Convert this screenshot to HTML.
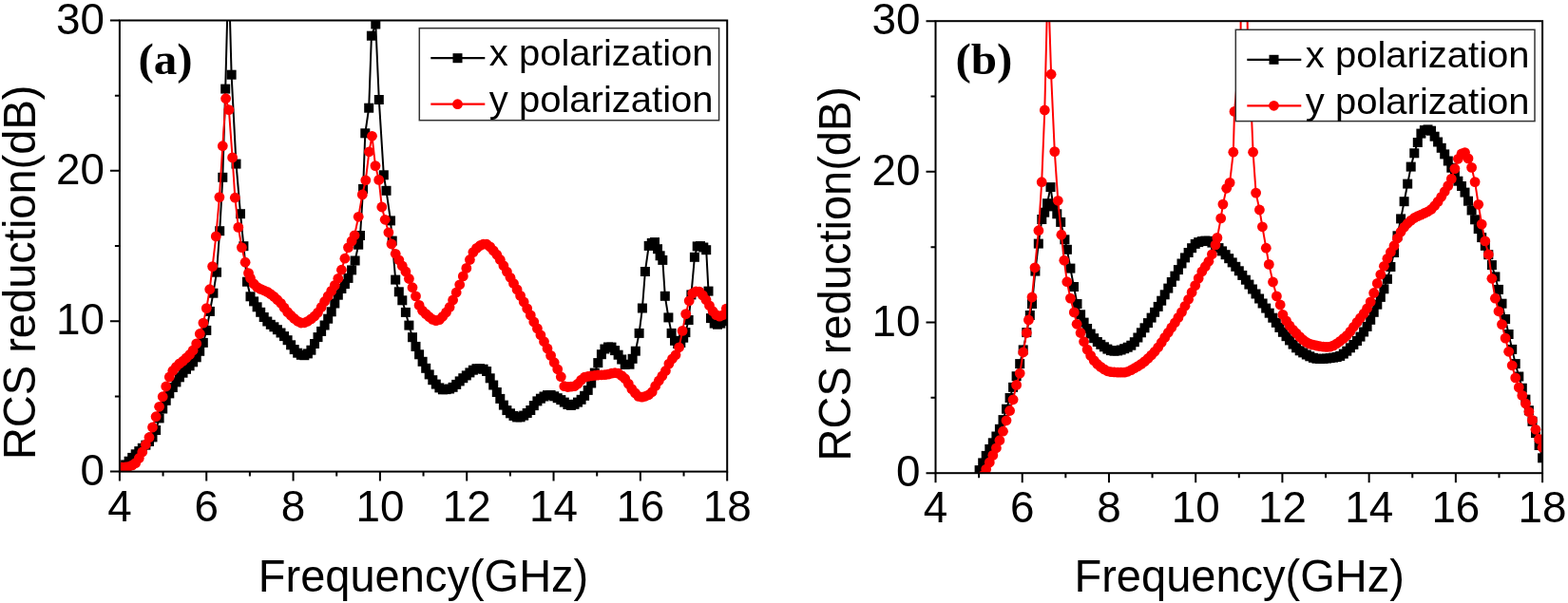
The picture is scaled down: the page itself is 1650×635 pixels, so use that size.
<!DOCTYPE html><html><head><meta charset="utf-8"><style>html,body{margin:0;padding:0;background:#fff;}svg{display:block;}.t{font-family:"Liberation Sans",Arial,sans-serif;fill:#000;}.p{font-family:"Liberation Serif","Times New Roman",serif;font-weight:bold;fill:#000;}</style></head><body>
<svg width="1650" height="635" viewBox="0 0 1650 635">
<rect x="0" y="0" width="1650" height="635" fill="#fff"/>
<defs>
<clipPath id="ca"><rect x="125.90" y="21.50" width="639.30" height="475.10"/></clipPath>
<clipPath id="cb"><rect x="984.50" y="22.20" width="638.60" height="476.00"/></clipPath>
<rect id="sq" x="-5" y="-5" width="10" height="10" fill="#000"/>
<circle id="ci" cx="0" cy="0" r="5.4" fill="#f00"/>
</defs>
<g clip-path="url(#ca)">
<path d="M125.0,495.7 L128.5,492.8 L132.1,489.4 L135.6,485.7 L139.2,481.9 L142.7,478.3 L146.3,475.1 L149.8,471.8 L153.4,468.7 L157.0,465.0 L160.5,460.4 L164.1,453.0 L167.6,440.4 L171.2,430.5 L174.7,421.8 L178.3,414.4 L181.8,408.0 L185.4,402.4 L188.9,397.3 L192.5,392.7 L196.0,388.8 L199.6,385.3 L203.1,381.3 L206.7,376.3 L210.2,369.8 L213.8,360.9 L217.3,347.9 L220.9,327.9 L224.4,308.7 L228.0,286.7 L231.2,243.2 L234.3,186.8 L237.2,93.6 L240.5,-33.9 L243.6,78.7 L248.5,172.6 L253.0,225.2 L256.4,259.2 L260.0,296.7 L263.5,312.3 L267.1,317.4 L270.6,323.3 L274.2,328.8 L277.7,334.0 L281.3,338.5 L284.8,341.8 L288.4,344.3 L291.9,347.2 L295.5,350.5 L299.0,354.1 L302.6,358.2 L306.1,363.3 L309.7,368.1 L313.2,371.7 L316.8,373.8 L320.3,374.2 L323.9,372.4 L327.4,368.7 L331.0,362.0 L334.5,355.1 L338.1,348.9 L341.6,342.5 L345.2,335.7 L348.7,328.3 L352.3,319.5 L355.8,310.7 L359.4,304.0 L362.9,299.1 L366.5,292.9 L370.1,284.4 L373.6,274.5 L377.2,257.7 L379.0,248.0 L382.1,198.9 L384.3,140.3 L388.2,113.7 L390.9,37.7 L395.3,25.5 L398.8,105.0 L403.8,184.3 L406.5,200.8 L411.0,232.4 L412.7,253.6 L416.2,294.6 L419.8,307.3 L423.3,316.3 L426.9,328.9 L430.4,342.6 L434.0,355.2 L437.5,364.9 L441.1,373.3 L444.6,380.8 L448.2,387.8 L451.7,394.4 L455.3,400.2 L458.8,404.6 L462.4,408.4 L465.9,410.3 L469.5,410.1 L473.1,409.5 L476.6,407.8 L480.2,404.9 L483.7,401.4 L487.3,398.2 L490.8,395.4 L494.4,392.4 L497.9,389.7 L501.5,388.2 L505.0,388.2 L508.6,388.7 L512.1,391.0 L515.7,398.3 L519.2,405.5 L522.8,413.0 L526.3,419.9 L529.9,426.6 L533.4,432.1 L537.0,435.3 L540.5,437.9 L544.1,439.4 L547.6,439.3 L551.2,437.6 L554.7,435.0 L558.3,432.0 L561.8,427.1 L565.4,422.4 L568.9,419.7 L572.5,417.5 L576.0,416.1 L579.6,416.0 L583.2,417.3 L586.7,419.2 L590.3,421.1 L593.8,423.6 L597.4,426.0 L600.9,426.9 L604.5,425.8 L608.0,423.6 L611.6,420.8 L615.1,416.8 L618.7,410.9 L622.2,403.5 L625.8,392.6 L629.3,382.1 L632.9,373.2 L636.4,367.5 L640.0,365.5 L643.5,365.6 L647.1,369.1 L650.6,373.7 L654.2,378.5 L657.7,384.0 L662.5,383.7 L665.6,377.8 L668.8,369.7 L672.6,350.9 L675.9,324.5 L678.9,286.0 L682.7,258.9 L685.8,255.9 L689.0,255.1 L692.0,262.2 L694.6,269.3 L697.3,273.9 L699.8,311.8 L703.4,334.4 L706.6,350.9 L710.0,358.8 L713.2,362.0 L716.3,361.0 L719.2,355.7 L721.4,350.1 L724.6,337.0 L727.4,310.4 L730.9,270.8 L733.7,259.4 L737.0,259.1 L740.3,260.5 L743.2,263.2 L745.5,306.6 L748.0,335.1 L751.7,340.6 L755.0,341.7 L758.3,340.6 L761.5,338.2 L764.5,334.3" fill="none" stroke="#000" stroke-width="2" stroke-linejoin="round"/>
<g><use href="#sq" x="125.0" y="495.7"/><use href="#sq" x="128.5" y="492.8"/><use href="#sq" x="132.1" y="489.4"/><use href="#sq" x="135.6" y="485.7"/><use href="#sq" x="139.2" y="481.9"/><use href="#sq" x="142.7" y="478.3"/><use href="#sq" x="146.3" y="475.1"/><use href="#sq" x="149.8" y="471.8"/><use href="#sq" x="153.4" y="468.7"/><use href="#sq" x="157.0" y="465.0"/><use href="#sq" x="160.5" y="460.4"/><use href="#sq" x="164.1" y="453.0"/><use href="#sq" x="167.6" y="440.4"/><use href="#sq" x="171.2" y="430.5"/><use href="#sq" x="174.7" y="421.8"/><use href="#sq" x="178.3" y="414.4"/><use href="#sq" x="181.8" y="408.0"/><use href="#sq" x="185.4" y="402.4"/><use href="#sq" x="188.9" y="397.3"/><use href="#sq" x="192.5" y="392.7"/><use href="#sq" x="196.0" y="388.8"/><use href="#sq" x="199.6" y="385.3"/><use href="#sq" x="203.1" y="381.3"/><use href="#sq" x="206.7" y="376.3"/><use href="#sq" x="210.2" y="369.8"/><use href="#sq" x="213.8" y="360.9"/><use href="#sq" x="217.3" y="347.9"/><use href="#sq" x="220.9" y="327.9"/><use href="#sq" x="224.4" y="308.7"/><use href="#sq" x="228.0" y="286.7"/><use href="#sq" x="231.2" y="243.2"/><use href="#sq" x="234.3" y="186.8"/><use href="#sq" x="237.2" y="93.6"/><use href="#sq" x="243.6" y="78.7"/><use href="#sq" x="248.5" y="172.6"/><use href="#sq" x="253.0" y="225.2"/><use href="#sq" x="256.4" y="259.2"/><use href="#sq" x="260.0" y="296.7"/><use href="#sq" x="263.5" y="312.3"/><use href="#sq" x="267.1" y="317.4"/><use href="#sq" x="270.6" y="323.3"/><use href="#sq" x="274.2" y="328.8"/><use href="#sq" x="277.7" y="334.0"/><use href="#sq" x="281.3" y="338.5"/><use href="#sq" x="284.8" y="341.8"/><use href="#sq" x="288.4" y="344.3"/><use href="#sq" x="291.9" y="347.2"/><use href="#sq" x="295.5" y="350.5"/><use href="#sq" x="299.0" y="354.1"/><use href="#sq" x="302.6" y="358.2"/><use href="#sq" x="306.1" y="363.3"/><use href="#sq" x="309.7" y="368.1"/><use href="#sq" x="313.2" y="371.7"/><use href="#sq" x="316.8" y="373.8"/><use href="#sq" x="320.3" y="374.2"/><use href="#sq" x="323.9" y="372.4"/><use href="#sq" x="327.4" y="368.7"/><use href="#sq" x="331.0" y="362.0"/><use href="#sq" x="334.5" y="355.1"/><use href="#sq" x="338.1" y="348.9"/><use href="#sq" x="341.6" y="342.5"/><use href="#sq" x="345.2" y="335.7"/><use href="#sq" x="348.7" y="328.3"/><use href="#sq" x="352.3" y="319.5"/><use href="#sq" x="355.8" y="310.7"/><use href="#sq" x="359.4" y="304.0"/><use href="#sq" x="362.9" y="299.1"/><use href="#sq" x="366.5" y="292.9"/><use href="#sq" x="370.1" y="284.4"/><use href="#sq" x="373.6" y="274.5"/><use href="#sq" x="377.2" y="257.7"/><use href="#sq" x="379.0" y="248.0"/><use href="#sq" x="382.1" y="198.9"/><use href="#sq" x="384.3" y="140.3"/><use href="#sq" x="388.2" y="113.7"/><use href="#sq" x="390.9" y="37.7"/><use href="#sq" x="395.3" y="25.5"/><use href="#sq" x="398.8" y="105.0"/><use href="#sq" x="403.8" y="184.3"/><use href="#sq" x="406.5" y="200.8"/><use href="#sq" x="411.0" y="232.4"/><use href="#sq" x="412.7" y="253.6"/><use href="#sq" x="416.2" y="294.6"/><use href="#sq" x="419.8" y="307.3"/><use href="#sq" x="423.3" y="316.3"/><use href="#sq" x="426.9" y="328.9"/><use href="#sq" x="430.4" y="342.6"/><use href="#sq" x="434.0" y="355.2"/><use href="#sq" x="437.5" y="364.9"/><use href="#sq" x="441.1" y="373.3"/><use href="#sq" x="444.6" y="380.8"/><use href="#sq" x="448.2" y="387.8"/><use href="#sq" x="451.7" y="394.4"/><use href="#sq" x="455.3" y="400.2"/><use href="#sq" x="458.8" y="404.6"/><use href="#sq" x="462.4" y="408.4"/><use href="#sq" x="465.9" y="410.3"/><use href="#sq" x="469.5" y="410.1"/><use href="#sq" x="473.1" y="409.5"/><use href="#sq" x="476.6" y="407.8"/><use href="#sq" x="480.2" y="404.9"/><use href="#sq" x="483.7" y="401.4"/><use href="#sq" x="487.3" y="398.2"/><use href="#sq" x="490.8" y="395.4"/><use href="#sq" x="494.4" y="392.4"/><use href="#sq" x="497.9" y="389.7"/><use href="#sq" x="501.5" y="388.2"/><use href="#sq" x="505.0" y="388.2"/><use href="#sq" x="508.6" y="388.7"/><use href="#sq" x="512.1" y="391.0"/><use href="#sq" x="515.7" y="398.3"/><use href="#sq" x="519.2" y="405.5"/><use href="#sq" x="522.8" y="413.0"/><use href="#sq" x="526.3" y="419.9"/><use href="#sq" x="529.9" y="426.6"/><use href="#sq" x="533.4" y="432.1"/><use href="#sq" x="537.0" y="435.3"/><use href="#sq" x="540.5" y="437.9"/><use href="#sq" x="544.1" y="439.4"/><use href="#sq" x="547.6" y="439.3"/><use href="#sq" x="551.2" y="437.6"/><use href="#sq" x="554.7" y="435.0"/><use href="#sq" x="558.3" y="432.0"/><use href="#sq" x="561.8" y="427.1"/><use href="#sq" x="565.4" y="422.4"/><use href="#sq" x="568.9" y="419.7"/><use href="#sq" x="572.5" y="417.5"/><use href="#sq" x="576.0" y="416.1"/><use href="#sq" x="579.6" y="416.0"/><use href="#sq" x="583.2" y="417.3"/><use href="#sq" x="586.7" y="419.2"/><use href="#sq" x="590.3" y="421.1"/><use href="#sq" x="593.8" y="423.6"/><use href="#sq" x="597.4" y="426.0"/><use href="#sq" x="600.9" y="426.9"/><use href="#sq" x="604.5" y="425.8"/><use href="#sq" x="608.0" y="423.6"/><use href="#sq" x="611.6" y="420.8"/><use href="#sq" x="615.1" y="416.8"/><use href="#sq" x="618.7" y="410.9"/><use href="#sq" x="622.2" y="403.5"/><use href="#sq" x="625.8" y="392.6"/><use href="#sq" x="629.3" y="382.1"/><use href="#sq" x="632.9" y="373.2"/><use href="#sq" x="636.4" y="367.5"/><use href="#sq" x="640.0" y="365.5"/><use href="#sq" x="643.5" y="365.6"/><use href="#sq" x="647.1" y="369.1"/><use href="#sq" x="650.6" y="373.7"/><use href="#sq" x="654.2" y="378.5"/><use href="#sq" x="657.7" y="384.0"/><use href="#sq" x="662.5" y="383.7"/><use href="#sq" x="665.6" y="377.8"/><use href="#sq" x="668.8" y="369.7"/><use href="#sq" x="672.6" y="350.9"/><use href="#sq" x="675.9" y="324.5"/><use href="#sq" x="678.9" y="286.0"/><use href="#sq" x="682.7" y="258.9"/><use href="#sq" x="685.8" y="255.9"/><use href="#sq" x="689.0" y="255.1"/><use href="#sq" x="692.0" y="262.2"/><use href="#sq" x="694.6" y="269.3"/><use href="#sq" x="697.3" y="273.9"/><use href="#sq" x="699.8" y="311.8"/><use href="#sq" x="703.4" y="334.4"/><use href="#sq" x="706.6" y="350.9"/><use href="#sq" x="710.0" y="358.8"/><use href="#sq" x="713.2" y="362.0"/><use href="#sq" x="716.3" y="361.0"/><use href="#sq" x="719.2" y="355.7"/><use href="#sq" x="721.4" y="350.1"/><use href="#sq" x="724.6" y="337.0"/><use href="#sq" x="727.4" y="310.4"/><use href="#sq" x="730.9" y="270.8"/><use href="#sq" x="733.7" y="259.4"/><use href="#sq" x="737.0" y="259.1"/><use href="#sq" x="740.3" y="260.5"/><use href="#sq" x="743.2" y="263.2"/><use href="#sq" x="745.5" y="306.6"/><use href="#sq" x="748.0" y="335.1"/><use href="#sq" x="751.7" y="340.6"/><use href="#sq" x="755.0" y="341.7"/><use href="#sq" x="758.3" y="340.6"/><use href="#sq" x="761.5" y="338.2"/><use href="#sq" x="764.5" y="334.3"/></g>
<path d="M125.0,492.3 L128.5,492.2 L132.1,491.9 L135.6,491.3 L139.2,489.9 L142.7,487.6 L146.3,482.5 L149.8,476.0 L153.4,468.2 L157.0,460.6 L160.5,450.0 L164.1,438.7 L167.6,428.3 L171.2,417.7 L174.7,407.0 L178.3,397.0 L181.8,390.5 L185.4,386.3 L188.9,382.9 L192.5,380.2 L196.0,377.0 L199.6,373.5 L203.1,369.0 L206.7,361.9 L210.3,351.5 L213.9,340.1 L217.3,324.6 L220.7,304.7 L223.6,280.6 L227.3,248.9 L230.9,207.6 L234.3,153.7 L237.6,103.7 L240.9,115.6 L244.6,165.9 L247.3,208.2 L250.8,239.4 L254.4,260.6 L258.1,276.2 L261.5,287.6 L263.5,293.0 L267.1,298.9 L270.6,302.4 L274.2,304.4 L277.7,305.8 L281.3,307.4 L284.8,309.7 L288.4,312.5 L291.9,315.7 L295.5,319.3 L299.0,324.0 L302.6,328.6 L306.1,332.2 L309.7,335.5 L313.2,338.3 L316.8,340.0 L320.3,339.8 L323.9,338.3 L327.4,335.9 L331.0,333.0 L334.5,329.1 L338.1,323.5 L341.6,317.5 L345.2,311.9 L348.7,306.4 L352.3,300.4 L355.8,293.3 L359.4,284.2 L362.9,272.2 L366.5,260.6 L370.1,253.9 L373.1,247.8 L377.2,228.3 L381.3,204.9 L384.8,189.8 L388.4,159.8 L391.5,143.3 L395.0,174.6 L398.7,189.4 L401.8,218.0 L405.2,231.3 L408.9,244.8 L412.0,257.0 L416.2,267.3 L419.8,273.8 L423.3,280.0 L426.9,286.0 L430.4,293.5 L434.0,302.7 L437.5,311.9 L441.1,321.4 L444.6,327.2 L448.2,330.6 L451.7,333.7 L455.3,336.4 L458.8,337.7 L462.4,336.6 L465.9,333.3 L469.5,329.0 L473.1,323.5 L476.6,316.0 L480.2,308.0 L483.7,299.8 L487.3,290.9 L490.8,282.4 L494.4,273.5 L497.9,265.6 L501.5,261.4 L505.0,258.7 L508.6,257.1 L512.1,257.2 L515.7,259.9 L519.2,263.9 L522.8,268.2 L526.3,273.5 L529.9,279.7 L533.4,286.1 L537.0,292.3 L540.5,298.5 L544.1,304.9 L547.6,311.4 L551.2,318.0 L554.7,324.9 L558.3,331.9 L561.8,339.0 L565.4,345.9 L568.9,352.8 L572.5,359.7 L576.0,367.0 L579.6,374.4 L583.2,381.7 L586.7,388.8 L590.3,396.7 L593.8,406.7 L597.4,407.5 L600.9,407.2 L604.5,406.6 L608.0,404.2 L611.6,400.1 L615.1,397.2 L618.7,396.4 L622.2,395.8 L625.8,395.4 L629.3,395.0 L632.9,394.8 L636.4,394.6 L640.0,394.2 L643.5,393.2 L647.1,392.6 L650.6,393.2 L654.2,395.6 L657.7,398.7 L661.3,404.1 L664.8,409.6 L668.4,413.9 L671.9,417.4 L675.5,418.1 L679.0,417.3 L682.6,415.8 L686.2,412.7 L689.7,406.5 L693.3,401.0 L696.8,396.0 L700.4,390.5 L703.9,383.1 L707.5,377.8 L711.0,373.8 L714.6,365.8 L718.1,348.4 L721.7,330.6 L725.2,316.8 L728.8,308.9 L732.3,306.9 L735.9,307.1 L739.4,310.9 L743.0,315.8 L746.5,321.8 L750.1,327.7 L753.6,331.6 L757.2,333.1 L760.7,331.8 L764.3,325.1" fill="none" stroke="#f00" stroke-width="2" stroke-linejoin="round"/>
<g><use href="#ci" x="125.0" y="492.3"/><use href="#ci" x="128.5" y="492.2"/><use href="#ci" x="132.1" y="491.9"/><use href="#ci" x="135.6" y="491.3"/><use href="#ci" x="139.2" y="489.9"/><use href="#ci" x="142.7" y="487.6"/><use href="#ci" x="146.3" y="482.5"/><use href="#ci" x="149.8" y="476.0"/><use href="#ci" x="153.4" y="468.2"/><use href="#ci" x="157.0" y="460.6"/><use href="#ci" x="160.5" y="450.0"/><use href="#ci" x="164.1" y="438.7"/><use href="#ci" x="167.6" y="428.3"/><use href="#ci" x="171.2" y="417.7"/><use href="#ci" x="174.7" y="407.0"/><use href="#ci" x="178.3" y="397.0"/><use href="#ci" x="181.8" y="390.5"/><use href="#ci" x="185.4" y="386.3"/><use href="#ci" x="188.9" y="382.9"/><use href="#ci" x="192.5" y="380.2"/><use href="#ci" x="196.0" y="377.0"/><use href="#ci" x="199.6" y="373.5"/><use href="#ci" x="203.1" y="369.0"/><use href="#ci" x="206.7" y="361.9"/><use href="#ci" x="210.3" y="351.5"/><use href="#ci" x="213.9" y="340.1"/><use href="#ci" x="217.3" y="324.6"/><use href="#ci" x="220.7" y="304.7"/><use href="#ci" x="223.6" y="280.6"/><use href="#ci" x="227.3" y="248.9"/><use href="#ci" x="230.9" y="207.6"/><use href="#ci" x="234.3" y="153.7"/><use href="#ci" x="237.6" y="103.7"/><use href="#ci" x="240.9" y="115.6"/><use href="#ci" x="244.6" y="165.9"/><use href="#ci" x="247.3" y="208.2"/><use href="#ci" x="250.8" y="239.4"/><use href="#ci" x="254.4" y="260.6"/><use href="#ci" x="258.1" y="276.2"/><use href="#ci" x="261.5" y="287.6"/><use href="#ci" x="263.5" y="293.0"/><use href="#ci" x="267.1" y="298.9"/><use href="#ci" x="270.6" y="302.4"/><use href="#ci" x="274.2" y="304.4"/><use href="#ci" x="277.7" y="305.8"/><use href="#ci" x="281.3" y="307.4"/><use href="#ci" x="284.8" y="309.7"/><use href="#ci" x="288.4" y="312.5"/><use href="#ci" x="291.9" y="315.7"/><use href="#ci" x="295.5" y="319.3"/><use href="#ci" x="299.0" y="324.0"/><use href="#ci" x="302.6" y="328.6"/><use href="#ci" x="306.1" y="332.2"/><use href="#ci" x="309.7" y="335.5"/><use href="#ci" x="313.2" y="338.3"/><use href="#ci" x="316.8" y="340.0"/><use href="#ci" x="320.3" y="339.8"/><use href="#ci" x="323.9" y="338.3"/><use href="#ci" x="327.4" y="335.9"/><use href="#ci" x="331.0" y="333.0"/><use href="#ci" x="334.5" y="329.1"/><use href="#ci" x="338.1" y="323.5"/><use href="#ci" x="341.6" y="317.5"/><use href="#ci" x="345.2" y="311.9"/><use href="#ci" x="348.7" y="306.4"/><use href="#ci" x="352.3" y="300.4"/><use href="#ci" x="355.8" y="293.3"/><use href="#ci" x="359.4" y="284.2"/><use href="#ci" x="362.9" y="272.2"/><use href="#ci" x="366.5" y="260.6"/><use href="#ci" x="370.1" y="253.9"/><use href="#ci" x="373.1" y="247.8"/><use href="#ci" x="377.2" y="228.3"/><use href="#ci" x="381.3" y="204.9"/><use href="#ci" x="384.8" y="189.8"/><use href="#ci" x="388.4" y="159.8"/><use href="#ci" x="391.5" y="143.3"/><use href="#ci" x="395.0" y="174.6"/><use href="#ci" x="398.7" y="189.4"/><use href="#ci" x="401.8" y="218.0"/><use href="#ci" x="405.2" y="231.3"/><use href="#ci" x="408.9" y="244.8"/><use href="#ci" x="412.0" y="257.0"/><use href="#ci" x="416.2" y="267.3"/><use href="#ci" x="419.8" y="273.8"/><use href="#ci" x="423.3" y="280.0"/><use href="#ci" x="426.9" y="286.0"/><use href="#ci" x="430.4" y="293.5"/><use href="#ci" x="434.0" y="302.7"/><use href="#ci" x="437.5" y="311.9"/><use href="#ci" x="441.1" y="321.4"/><use href="#ci" x="444.6" y="327.2"/><use href="#ci" x="448.2" y="330.6"/><use href="#ci" x="451.7" y="333.7"/><use href="#ci" x="455.3" y="336.4"/><use href="#ci" x="458.8" y="337.7"/><use href="#ci" x="462.4" y="336.6"/><use href="#ci" x="465.9" y="333.3"/><use href="#ci" x="469.5" y="329.0"/><use href="#ci" x="473.1" y="323.5"/><use href="#ci" x="476.6" y="316.0"/><use href="#ci" x="480.2" y="308.0"/><use href="#ci" x="483.7" y="299.8"/><use href="#ci" x="487.3" y="290.9"/><use href="#ci" x="490.8" y="282.4"/><use href="#ci" x="494.4" y="273.5"/><use href="#ci" x="497.9" y="265.6"/><use href="#ci" x="501.5" y="261.4"/><use href="#ci" x="505.0" y="258.7"/><use href="#ci" x="508.6" y="257.1"/><use href="#ci" x="512.1" y="257.2"/><use href="#ci" x="515.7" y="259.9"/><use href="#ci" x="519.2" y="263.9"/><use href="#ci" x="522.8" y="268.2"/><use href="#ci" x="526.3" y="273.5"/><use href="#ci" x="529.9" y="279.7"/><use href="#ci" x="533.4" y="286.1"/><use href="#ci" x="537.0" y="292.3"/><use href="#ci" x="540.5" y="298.5"/><use href="#ci" x="544.1" y="304.9"/><use href="#ci" x="547.6" y="311.4"/><use href="#ci" x="551.2" y="318.0"/><use href="#ci" x="554.7" y="324.9"/><use href="#ci" x="558.3" y="331.9"/><use href="#ci" x="561.8" y="339.0"/><use href="#ci" x="565.4" y="345.9"/><use href="#ci" x="568.9" y="352.8"/><use href="#ci" x="572.5" y="359.7"/><use href="#ci" x="576.0" y="367.0"/><use href="#ci" x="579.6" y="374.4"/><use href="#ci" x="583.2" y="381.7"/><use href="#ci" x="586.7" y="388.8"/><use href="#ci" x="590.3" y="396.7"/><use href="#ci" x="593.8" y="406.7"/><use href="#ci" x="597.4" y="407.5"/><use href="#ci" x="600.9" y="407.2"/><use href="#ci" x="604.5" y="406.6"/><use href="#ci" x="608.0" y="404.2"/><use href="#ci" x="611.6" y="400.1"/><use href="#ci" x="615.1" y="397.2"/><use href="#ci" x="618.7" y="396.4"/><use href="#ci" x="622.2" y="395.8"/><use href="#ci" x="625.8" y="395.4"/><use href="#ci" x="629.3" y="395.0"/><use href="#ci" x="632.9" y="394.8"/><use href="#ci" x="636.4" y="394.6"/><use href="#ci" x="640.0" y="394.2"/><use href="#ci" x="643.5" y="393.2"/><use href="#ci" x="647.1" y="392.6"/><use href="#ci" x="650.6" y="393.2"/><use href="#ci" x="654.2" y="395.6"/><use href="#ci" x="657.7" y="398.7"/><use href="#ci" x="661.3" y="404.1"/><use href="#ci" x="664.8" y="409.6"/><use href="#ci" x="668.4" y="413.9"/><use href="#ci" x="671.9" y="417.4"/><use href="#ci" x="675.5" y="418.1"/><use href="#ci" x="679.0" y="417.3"/><use href="#ci" x="682.6" y="415.8"/><use href="#ci" x="686.2" y="412.7"/><use href="#ci" x="689.7" y="406.5"/><use href="#ci" x="693.3" y="401.0"/><use href="#ci" x="696.8" y="396.0"/><use href="#ci" x="700.4" y="390.5"/><use href="#ci" x="703.9" y="383.1"/><use href="#ci" x="707.5" y="377.8"/><use href="#ci" x="711.0" y="373.8"/><use href="#ci" x="714.6" y="365.8"/><use href="#ci" x="718.1" y="348.4"/><use href="#ci" x="721.7" y="330.6"/><use href="#ci" x="725.2" y="316.8"/><use href="#ci" x="728.8" y="308.9"/><use href="#ci" x="732.3" y="306.9"/><use href="#ci" x="735.9" y="307.1"/><use href="#ci" x="739.4" y="310.9"/><use href="#ci" x="743.0" y="315.8"/><use href="#ci" x="746.5" y="321.8"/><use href="#ci" x="750.1" y="327.7"/><use href="#ci" x="753.6" y="331.6"/><use href="#ci" x="757.2" y="333.1"/><use href="#ci" x="760.7" y="331.8"/><use href="#ci" x="764.3" y="325.1"/></g>
</g>
<rect x="125.9" y="21.5" width="639.30" height="475.10" fill="none" stroke="#000" stroke-width="2"/>
<path d="M125.90,496.60v10 M171.56,496.60v5 M217.23,496.60v10 M262.89,496.60v5 M308.56,496.60v10 M354.22,496.60v5 M399.89,496.60v10 M445.55,496.60v5 M491.21,496.60v10 M536.88,496.60v5 M582.54,496.60v10 M628.21,496.60v5 M673.87,496.60v10 M719.54,496.60v5 M765.20,496.60v10 M125.90,496.60h-10 M125.90,417.42h-5 M125.90,338.23h-10 M125.90,259.05h-5 M125.90,179.87h-10 M125.90,100.68h-5 M125.90,21.50h-10" stroke="#000" stroke-width="2" fill="none"/>
<text class="t" transform="translate(125.90,548.6) scale(0.975,1)" font-size="47" text-anchor="middle">4</text>
<text class="t" transform="translate(217.23,548.6) scale(0.975,1)" font-size="47" text-anchor="middle">6</text>
<text class="t" transform="translate(308.56,548.6) scale(0.975,1)" font-size="47" text-anchor="middle">8</text>
<text class="t" transform="translate(399.89,548.6) scale(0.975,1)" font-size="47" text-anchor="middle">10</text>
<text class="t" transform="translate(491.21,548.6) scale(0.975,1)" font-size="47" text-anchor="middle">12</text>
<text class="t" transform="translate(582.54,548.6) scale(0.975,1)" font-size="47" text-anchor="middle">14</text>
<text class="t" transform="translate(673.87,548.6) scale(0.975,1)" font-size="47" text-anchor="middle">16</text>
<text class="t" transform="translate(765.20,548.6) scale(0.975,1)" font-size="47" text-anchor="middle">18</text>
<text class="t" transform="translate(109.90,510.6) scale(0.975,1)" font-size="47" text-anchor="end">0</text>
<text class="t" transform="translate(109.90,352.2) scale(0.975,1)" font-size="47" text-anchor="end">10</text>
<text class="t" transform="translate(109.90,193.9) scale(0.975,1)" font-size="47" text-anchor="end">20</text>
<text class="t" transform="translate(109.90,35.5) scale(0.975,1)" font-size="47" text-anchor="end">30</text>
<text class="t" transform="translate(271.8,623.0) scale(0.99,1)" font-size="47.5">Frequency(GHz)</text>
<text class="t" transform="translate(36.9,484.1) rotate(-90) scale(0.99,1)" font-size="47.5">RCS reduction(dB)</text>
<text class="p" transform="translate(145.4,78.0) scale(1.035,1)" font-size="47.5">(a)</text>
<rect x="441.3" y="29.7" width="315.3" height="97.0" fill="#fff" stroke="#333" stroke-width="1.5"/>
<path d="M453.3,61.2h57" stroke="#000" stroke-width="2.2"/>
<use href="#sq" x="481.5" y="61.2"/>
<path d="M453.3,109.7h57" stroke="#f00" stroke-width="2.2"/>
<use href="#ci" x="481.5" y="109.7"/>
<text class="t" transform="translate(514.8,69.2) scale(1.045,1)" font-size="38.3">x polarization</text>
<text class="t" transform="translate(514.8,118.0) scale(1.045,1)" font-size="38.3">y polarization</text>
<g clip-path="url(#cb)">
<path d="M984.5,625.1 L988.0,613.1 L991.6,601.4 L995.1,590.0 L998.7,579.0 L1002.2,568.4 L1005.8,558.0 L1009.3,548.1 L1012.9,538.6 L1016.4,529.5 L1020.0,520.6 L1023.5,511.9 L1027.1,503.3 L1030.6,495.1 L1034.2,487.4 L1037.7,479.9 L1041.3,472.9 L1044.8,466.3 L1048.4,459.5 L1051.9,451.8 L1055.5,442.1 L1059.0,430.7 L1062.6,419.0 L1066.1,407.8 L1069.6,396.2 L1073.2,383.1 L1076.7,368.4 L1080.3,350.1 L1083.8,332.0 L1086.0,320.0 L1089.4,285.6 L1092.8,256.6 L1096.3,231.0 L1099.2,223.7 L1102.0,214.2 L1105.5,197.1 L1108.4,217.4 L1112.3,225.3 L1116.2,233.9 L1120.4,252.3 L1122.9,262.8 L1126.4,282.6 L1130.0,302.0 L1133.5,320.0 L1137.1,331.3 L1140.6,339.6 L1144.1,346.0 L1147.7,351.5 L1151.2,356.2 L1154.8,360.0 L1158.3,362.8 L1161.9,365.3 L1165.4,367.6 L1169.0,369.1 L1172.5,369.7 L1176.1,369.4 L1179.6,368.5 L1183.2,367.2 L1186.7,365.7 L1190.3,363.7 L1193.8,360.2 L1197.4,355.5 L1200.9,350.3 L1204.5,345.3 L1208.0,340.1 L1211.6,334.6 L1215.1,328.8 L1218.7,322.9 L1222.2,316.7 L1225.7,310.3 L1229.3,303.6 L1232.8,297.0 L1236.4,290.6 L1239.9,284.1 L1243.5,277.5 L1247.0,271.4 L1250.6,266.0 L1254.1,261.2 L1257.7,256.9 L1261.2,255.1 L1264.8,254.1 L1268.3,253.6 L1271.9,253.8 L1275.4,255.6 L1279.0,258.3 L1282.5,261.1 L1286.1,264.4 L1289.6,268.2 L1293.2,272.2 L1296.7,276.4 L1300.3,280.8 L1303.8,285.3 L1307.3,289.9 L1310.9,294.7 L1314.4,299.6 L1318.0,304.5 L1321.5,309.5 L1325.1,314.5 L1328.6,319.5 L1332.2,324.6 L1335.7,329.7 L1339.3,334.7 L1342.8,339.8 L1346.4,344.9 L1349.9,349.8 L1353.5,354.2 L1357.0,358.4 L1360.6,362.6 L1364.1,366.3 L1367.7,369.3 L1371.2,371.4 L1374.8,373.5 L1378.3,375.3 L1381.9,376.8 L1385.4,377.7 L1388.9,377.9 L1392.5,377.8 L1396.0,377.5 L1399.6,377.1 L1403.1,376.6 L1406.7,376.0 L1410.2,374.9 L1413.8,372.6 L1417.3,369.7 L1420.9,366.3 L1424.4,362.9 L1428.0,359.0 L1431.5,354.6 L1435.1,349.5 L1438.6,343.9 L1442.2,336.8 L1445.7,328.8 L1449.3,320.7 L1452.8,312.9 L1456.4,304.3 L1459.9,293.9 L1463.4,281.0 L1467.0,266.0 L1470.5,248.3 L1474.1,230.4 L1477.6,212.2 L1481.2,193.6 L1484.7,175.6 L1488.3,161.3 L1491.8,150.0 L1495.4,140.6 L1498.9,137.1 L1502.5,136.4 L1506.0,137.7 L1509.6,143.7 L1513.1,149.5 L1516.7,155.8 L1520.2,162.4 L1523.8,169.5 L1527.3,176.7 L1530.9,184.3 L1534.4,190.7 L1538.0,196.0 L1541.5,202.6 L1545.0,211.7 L1548.6,221.5 L1552.1,231.3 L1555.7,241.1 L1559.2,250.1 L1562.8,258.8 L1566.3,268.2 L1569.9,279.1 L1573.4,291.4 L1577.0,304.9 L1580.5,319.7 L1584.1,336.0 L1587.6,352.0 L1591.2,367.9 L1594.7,383.1 L1598.3,396.5 L1601.8,408.7 L1605.4,420.6 L1608.9,432.2 L1612.5,443.8 L1616.0,456.1 L1619.6,469.0 L1623.1,482.3" fill="none" stroke="#000" stroke-width="2" stroke-linejoin="round"/>
<g><use href="#sq" x="984.5" y="625.1"/><use href="#sq" x="988.0" y="613.1"/><use href="#sq" x="991.6" y="601.4"/><use href="#sq" x="995.1" y="590.0"/><use href="#sq" x="998.7" y="579.0"/><use href="#sq" x="1002.2" y="568.4"/><use href="#sq" x="1005.8" y="558.0"/><use href="#sq" x="1009.3" y="548.1"/><use href="#sq" x="1012.9" y="538.6"/><use href="#sq" x="1016.4" y="529.5"/><use href="#sq" x="1020.0" y="520.6"/><use href="#sq" x="1023.5" y="511.9"/><use href="#sq" x="1027.1" y="503.3"/><use href="#sq" x="1030.6" y="495.1"/><use href="#sq" x="1034.2" y="487.4"/><use href="#sq" x="1037.7" y="479.9"/><use href="#sq" x="1041.3" y="472.9"/><use href="#sq" x="1044.8" y="466.3"/><use href="#sq" x="1048.4" y="459.5"/><use href="#sq" x="1051.9" y="451.8"/><use href="#sq" x="1055.5" y="442.1"/><use href="#sq" x="1059.0" y="430.7"/><use href="#sq" x="1062.6" y="419.0"/><use href="#sq" x="1066.1" y="407.8"/><use href="#sq" x="1069.6" y="396.2"/><use href="#sq" x="1073.2" y="383.1"/><use href="#sq" x="1076.7" y="368.4"/><use href="#sq" x="1080.3" y="350.1"/><use href="#sq" x="1083.8" y="332.0"/><use href="#sq" x="1086.0" y="320.0"/><use href="#sq" x="1089.4" y="285.6"/><use href="#sq" x="1092.8" y="256.6"/><use href="#sq" x="1096.3" y="231.0"/><use href="#sq" x="1099.2" y="223.7"/><use href="#sq" x="1102.0" y="214.2"/><use href="#sq" x="1105.5" y="197.1"/><use href="#sq" x="1108.4" y="217.4"/><use href="#sq" x="1112.3" y="225.3"/><use href="#sq" x="1116.2" y="233.9"/><use href="#sq" x="1120.4" y="252.3"/><use href="#sq" x="1122.9" y="262.8"/><use href="#sq" x="1126.4" y="282.6"/><use href="#sq" x="1130.0" y="302.0"/><use href="#sq" x="1133.5" y="320.0"/><use href="#sq" x="1137.1" y="331.3"/><use href="#sq" x="1140.6" y="339.6"/><use href="#sq" x="1144.1" y="346.0"/><use href="#sq" x="1147.7" y="351.5"/><use href="#sq" x="1151.2" y="356.2"/><use href="#sq" x="1154.8" y="360.0"/><use href="#sq" x="1158.3" y="362.8"/><use href="#sq" x="1161.9" y="365.3"/><use href="#sq" x="1165.4" y="367.6"/><use href="#sq" x="1169.0" y="369.1"/><use href="#sq" x="1172.5" y="369.7"/><use href="#sq" x="1176.1" y="369.4"/><use href="#sq" x="1179.6" y="368.5"/><use href="#sq" x="1183.2" y="367.2"/><use href="#sq" x="1186.7" y="365.7"/><use href="#sq" x="1190.3" y="363.7"/><use href="#sq" x="1193.8" y="360.2"/><use href="#sq" x="1197.4" y="355.5"/><use href="#sq" x="1200.9" y="350.3"/><use href="#sq" x="1204.5" y="345.3"/><use href="#sq" x="1208.0" y="340.1"/><use href="#sq" x="1211.6" y="334.6"/><use href="#sq" x="1215.1" y="328.8"/><use href="#sq" x="1218.7" y="322.9"/><use href="#sq" x="1222.2" y="316.7"/><use href="#sq" x="1225.7" y="310.3"/><use href="#sq" x="1229.3" y="303.6"/><use href="#sq" x="1232.8" y="297.0"/><use href="#sq" x="1236.4" y="290.6"/><use href="#sq" x="1239.9" y="284.1"/><use href="#sq" x="1243.5" y="277.5"/><use href="#sq" x="1247.0" y="271.4"/><use href="#sq" x="1250.6" y="266.0"/><use href="#sq" x="1254.1" y="261.2"/><use href="#sq" x="1257.7" y="256.9"/><use href="#sq" x="1261.2" y="255.1"/><use href="#sq" x="1264.8" y="254.1"/><use href="#sq" x="1268.3" y="253.6"/><use href="#sq" x="1271.9" y="253.8"/><use href="#sq" x="1275.4" y="255.6"/><use href="#sq" x="1279.0" y="258.3"/><use href="#sq" x="1282.5" y="261.1"/><use href="#sq" x="1286.1" y="264.4"/><use href="#sq" x="1289.6" y="268.2"/><use href="#sq" x="1293.2" y="272.2"/><use href="#sq" x="1296.7" y="276.4"/><use href="#sq" x="1300.3" y="280.8"/><use href="#sq" x="1303.8" y="285.3"/><use href="#sq" x="1307.3" y="289.9"/><use href="#sq" x="1310.9" y="294.7"/><use href="#sq" x="1314.4" y="299.6"/><use href="#sq" x="1318.0" y="304.5"/><use href="#sq" x="1321.5" y="309.5"/><use href="#sq" x="1325.1" y="314.5"/><use href="#sq" x="1328.6" y="319.5"/><use href="#sq" x="1332.2" y="324.6"/><use href="#sq" x="1335.7" y="329.7"/><use href="#sq" x="1339.3" y="334.7"/><use href="#sq" x="1342.8" y="339.8"/><use href="#sq" x="1346.4" y="344.9"/><use href="#sq" x="1349.9" y="349.8"/><use href="#sq" x="1353.5" y="354.2"/><use href="#sq" x="1357.0" y="358.4"/><use href="#sq" x="1360.6" y="362.6"/><use href="#sq" x="1364.1" y="366.3"/><use href="#sq" x="1367.7" y="369.3"/><use href="#sq" x="1371.2" y="371.4"/><use href="#sq" x="1374.8" y="373.5"/><use href="#sq" x="1378.3" y="375.3"/><use href="#sq" x="1381.9" y="376.8"/><use href="#sq" x="1385.4" y="377.7"/><use href="#sq" x="1388.9" y="377.9"/><use href="#sq" x="1392.5" y="377.8"/><use href="#sq" x="1396.0" y="377.5"/><use href="#sq" x="1399.6" y="377.1"/><use href="#sq" x="1403.1" y="376.6"/><use href="#sq" x="1406.7" y="376.0"/><use href="#sq" x="1410.2" y="374.9"/><use href="#sq" x="1413.8" y="372.6"/><use href="#sq" x="1417.3" y="369.7"/><use href="#sq" x="1420.9" y="366.3"/><use href="#sq" x="1424.4" y="362.9"/><use href="#sq" x="1428.0" y="359.0"/><use href="#sq" x="1431.5" y="354.6"/><use href="#sq" x="1435.1" y="349.5"/><use href="#sq" x="1438.6" y="343.9"/><use href="#sq" x="1442.2" y="336.8"/><use href="#sq" x="1445.7" y="328.8"/><use href="#sq" x="1449.3" y="320.7"/><use href="#sq" x="1452.8" y="312.9"/><use href="#sq" x="1456.4" y="304.3"/><use href="#sq" x="1459.9" y="293.9"/><use href="#sq" x="1463.4" y="281.0"/><use href="#sq" x="1467.0" y="266.0"/><use href="#sq" x="1470.5" y="248.3"/><use href="#sq" x="1474.1" y="230.4"/><use href="#sq" x="1477.6" y="212.2"/><use href="#sq" x="1481.2" y="193.6"/><use href="#sq" x="1484.7" y="175.6"/><use href="#sq" x="1488.3" y="161.3"/><use href="#sq" x="1491.8" y="150.0"/><use href="#sq" x="1495.4" y="140.6"/><use href="#sq" x="1498.9" y="137.1"/><use href="#sq" x="1502.5" y="136.4"/><use href="#sq" x="1506.0" y="137.7"/><use href="#sq" x="1509.6" y="143.7"/><use href="#sq" x="1513.1" y="149.5"/><use href="#sq" x="1516.7" y="155.8"/><use href="#sq" x="1520.2" y="162.4"/><use href="#sq" x="1523.8" y="169.5"/><use href="#sq" x="1527.3" y="176.7"/><use href="#sq" x="1530.9" y="184.3"/><use href="#sq" x="1534.4" y="190.7"/><use href="#sq" x="1538.0" y="196.0"/><use href="#sq" x="1541.5" y="202.6"/><use href="#sq" x="1545.0" y="211.7"/><use href="#sq" x="1548.6" y="221.5"/><use href="#sq" x="1552.1" y="231.3"/><use href="#sq" x="1555.7" y="241.1"/><use href="#sq" x="1559.2" y="250.1"/><use href="#sq" x="1562.8" y="258.8"/><use href="#sq" x="1566.3" y="268.2"/><use href="#sq" x="1569.9" y="279.1"/><use href="#sq" x="1573.4" y="291.4"/><use href="#sq" x="1577.0" y="304.9"/><use href="#sq" x="1580.5" y="319.7"/><use href="#sq" x="1584.1" y="336.0"/><use href="#sq" x="1587.6" y="352.0"/><use href="#sq" x="1591.2" y="367.9"/><use href="#sq" x="1594.7" y="383.1"/><use href="#sq" x="1598.3" y="396.5"/><use href="#sq" x="1601.8" y="408.7"/><use href="#sq" x="1605.4" y="420.6"/><use href="#sq" x="1608.9" y="432.2"/><use href="#sq" x="1612.5" y="443.8"/><use href="#sq" x="1616.0" y="456.1"/><use href="#sq" x="1619.6" y="469.0"/><use href="#sq" x="1623.1" y="482.3"/></g>
<path d="M984.5,656.9 L988.0,643.8 L991.6,631.0 L995.1,618.5 L998.7,606.2 L1002.2,594.2 L1005.8,582.5 L1009.3,571.0 L1012.9,559.7 L1016.4,548.6 L1020.0,537.9 L1023.5,527.6 L1027.1,517.9 L1030.6,508.7 L1034.2,501.0 L1037.7,494.1 L1041.3,486.9 L1044.8,479.4 L1048.4,471.8 L1051.9,463.7 L1055.5,454.2 L1059.0,442.8 L1062.6,432.5 L1066.1,420.8 L1069.6,405.4 L1073.2,393.1 L1076.7,371.0 L1080.3,350.5 L1082.4,337.0 L1086.0,313.0 L1089.0,281.8 L1092.9,242.7 L1096.2,191.7 L1099.3,116.0 L1102.7,-25.4 L1106.1,78.2 L1109.8,159.6 L1113.3,211.3 L1116.9,247.2 L1119.8,274.2 L1122.8,296.7 L1126.4,314.1 L1130.3,328.9 L1133.1,341.3 L1137.1,350.5 L1140.6,359.7 L1144.1,368.1 L1147.7,374.4 L1151.2,379.6 L1154.8,383.5 L1158.3,386.4 L1161.9,388.9 L1165.4,390.8 L1169.0,391.7 L1172.5,391.9 L1176.1,392.1 L1179.6,392.2 L1183.2,392.1 L1186.7,391.3 L1190.3,389.7 L1193.8,387.7 L1197.4,385.6 L1200.9,383.4 L1204.5,380.6 L1208.0,377.5 L1211.6,374.0 L1215.1,370.3 L1218.7,365.8 L1222.2,360.7 L1225.7,355.4 L1229.3,350.2 L1232.8,345.0 L1236.4,339.8 L1239.9,334.4 L1243.5,328.6 L1247.0,322.3 L1250.6,315.3 L1254.1,307.9 L1257.7,300.6 L1261.2,293.1 L1264.8,286.0 L1268.3,280.7 L1271.9,275.3 L1275.4,267.8 L1279.0,257.9 L1280.9,250.4 L1284.7,229.9 L1286.9,215.1 L1290.7,198.3 L1294.1,192.4 L1297.8,160.2 L1299.0,117.4 L1305.5,46.0 L1307.0,-215.8 L1309.5,-215.8 L1313.5,85.7 L1316.5,109.5 L1318.6,160.2 L1321.6,203.1 L1325.4,221.0 L1328.4,238.8 L1332.3,261.2 L1335.3,278.4 L1339.5,297.0 L1343.4,311.9 L1347.2,321.0 L1349.9,331.4 L1353.5,337.8 L1357.0,343.0 L1360.6,347.3 L1364.1,351.0 L1367.7,354.6 L1371.2,357.9 L1374.8,360.5 L1378.3,362.1 L1381.9,363.1 L1385.4,364.0 L1388.9,364.6 L1392.5,365.1 L1396.0,365.4 L1399.6,365.1 L1403.1,363.9 L1406.7,361.8 L1410.2,359.3 L1413.8,356.4 L1417.3,353.3 L1420.9,349.1 L1424.4,344.3 L1428.0,339.4 L1431.5,334.9 L1435.1,330.2 L1438.6,324.8 L1442.2,317.9 L1445.7,308.5 L1449.3,298.4 L1452.8,289.1 L1456.4,280.3 L1459.9,272.3 L1463.4,265.5 L1467.0,258.7 L1470.5,250.9 L1474.1,244.1 L1477.6,239.2 L1481.2,235.3 L1484.7,232.1 L1488.3,229.5 L1491.8,227.6 L1495.4,226.1 L1498.9,224.5 L1502.5,222.8 L1506.0,220.5 L1509.6,216.7 L1513.1,212.4 L1516.7,207.3 L1520.2,201.7 L1523.8,195.6 L1527.3,188.4 L1530.9,177.6 L1534.4,167.3 L1538.0,162.0 L1541.5,160.6 L1545.0,166.9 L1548.6,176.4 L1552.1,191.6 L1555.7,215.3 L1559.2,236.1 L1562.8,253.9 L1566.3,268.0 L1569.9,293.3 L1573.4,314.2 L1577.0,327.8 L1580.5,341.6 L1584.1,356.1 L1587.6,370.3 L1591.2,384.8 L1594.7,397.9 L1598.3,407.9 L1601.8,416.4 L1605.4,425.0 L1608.9,433.6 L1612.5,442.4 L1616.0,452.3 L1619.6,462.4 L1623.1,471.2" fill="none" stroke="#f00" stroke-width="2" stroke-linejoin="round"/>
<g><use href="#ci" x="984.5" y="656.9"/><use href="#ci" x="988.0" y="643.8"/><use href="#ci" x="991.6" y="631.0"/><use href="#ci" x="995.1" y="618.5"/><use href="#ci" x="998.7" y="606.2"/><use href="#ci" x="1002.2" y="594.2"/><use href="#ci" x="1005.8" y="582.5"/><use href="#ci" x="1009.3" y="571.0"/><use href="#ci" x="1012.9" y="559.7"/><use href="#ci" x="1016.4" y="548.6"/><use href="#ci" x="1020.0" y="537.9"/><use href="#ci" x="1023.5" y="527.6"/><use href="#ci" x="1027.1" y="517.9"/><use href="#ci" x="1030.6" y="508.7"/><use href="#ci" x="1034.2" y="501.0"/><use href="#ci" x="1037.7" y="494.1"/><use href="#ci" x="1041.3" y="486.9"/><use href="#ci" x="1044.8" y="479.4"/><use href="#ci" x="1048.4" y="471.8"/><use href="#ci" x="1051.9" y="463.7"/><use href="#ci" x="1055.5" y="454.2"/><use href="#ci" x="1059.0" y="442.8"/><use href="#ci" x="1062.6" y="432.5"/><use href="#ci" x="1066.1" y="420.8"/><use href="#ci" x="1069.6" y="405.4"/><use href="#ci" x="1073.2" y="393.1"/><use href="#ci" x="1076.7" y="371.0"/><use href="#ci" x="1080.3" y="350.5"/><use href="#ci" x="1082.4" y="337.0"/><use href="#ci" x="1086.0" y="313.0"/><use href="#ci" x="1089.0" y="281.8"/><use href="#ci" x="1092.9" y="242.7"/><use href="#ci" x="1096.2" y="191.7"/><use href="#ci" x="1099.3" y="116.0"/><use href="#ci" x="1106.1" y="78.2"/><use href="#ci" x="1109.8" y="159.6"/><use href="#ci" x="1113.3" y="211.3"/><use href="#ci" x="1116.9" y="247.2"/><use href="#ci" x="1119.8" y="274.2"/><use href="#ci" x="1122.8" y="296.7"/><use href="#ci" x="1126.4" y="314.1"/><use href="#ci" x="1130.3" y="328.9"/><use href="#ci" x="1133.1" y="341.3"/><use href="#ci" x="1137.1" y="350.5"/><use href="#ci" x="1140.6" y="359.7"/><use href="#ci" x="1144.1" y="368.1"/><use href="#ci" x="1147.7" y="374.4"/><use href="#ci" x="1151.2" y="379.6"/><use href="#ci" x="1154.8" y="383.5"/><use href="#ci" x="1158.3" y="386.4"/><use href="#ci" x="1161.9" y="388.9"/><use href="#ci" x="1165.4" y="390.8"/><use href="#ci" x="1169.0" y="391.7"/><use href="#ci" x="1172.5" y="391.9"/><use href="#ci" x="1176.1" y="392.1"/><use href="#ci" x="1179.6" y="392.2"/><use href="#ci" x="1183.2" y="392.1"/><use href="#ci" x="1186.7" y="391.3"/><use href="#ci" x="1190.3" y="389.7"/><use href="#ci" x="1193.8" y="387.7"/><use href="#ci" x="1197.4" y="385.6"/><use href="#ci" x="1200.9" y="383.4"/><use href="#ci" x="1204.5" y="380.6"/><use href="#ci" x="1208.0" y="377.5"/><use href="#ci" x="1211.6" y="374.0"/><use href="#ci" x="1215.1" y="370.3"/><use href="#ci" x="1218.7" y="365.8"/><use href="#ci" x="1222.2" y="360.7"/><use href="#ci" x="1225.7" y="355.4"/><use href="#ci" x="1229.3" y="350.2"/><use href="#ci" x="1232.8" y="345.0"/><use href="#ci" x="1236.4" y="339.8"/><use href="#ci" x="1239.9" y="334.4"/><use href="#ci" x="1243.5" y="328.6"/><use href="#ci" x="1247.0" y="322.3"/><use href="#ci" x="1250.6" y="315.3"/><use href="#ci" x="1254.1" y="307.9"/><use href="#ci" x="1257.7" y="300.6"/><use href="#ci" x="1261.2" y="293.1"/><use href="#ci" x="1264.8" y="286.0"/><use href="#ci" x="1268.3" y="280.7"/><use href="#ci" x="1271.9" y="275.3"/><use href="#ci" x="1275.4" y="267.8"/><use href="#ci" x="1279.0" y="257.9"/><use href="#ci" x="1280.9" y="250.4"/><use href="#ci" x="1284.7" y="229.9"/><use href="#ci" x="1286.9" y="215.1"/><use href="#ci" x="1290.7" y="198.3"/><use href="#ci" x="1294.1" y="192.4"/><use href="#ci" x="1297.8" y="160.2"/><use href="#ci" x="1299.0" y="117.4"/><use href="#ci" x="1305.5" y="46.0"/><use href="#ci" x="1313.5" y="85.7"/><use href="#ci" x="1316.5" y="109.5"/><use href="#ci" x="1318.6" y="160.2"/><use href="#ci" x="1321.6" y="203.1"/><use href="#ci" x="1325.4" y="221.0"/><use href="#ci" x="1328.4" y="238.8"/><use href="#ci" x="1332.3" y="261.2"/><use href="#ci" x="1335.3" y="278.4"/><use href="#ci" x="1339.5" y="297.0"/><use href="#ci" x="1343.4" y="311.9"/><use href="#ci" x="1347.2" y="321.0"/><use href="#ci" x="1349.9" y="331.4"/><use href="#ci" x="1353.5" y="337.8"/><use href="#ci" x="1357.0" y="343.0"/><use href="#ci" x="1360.6" y="347.3"/><use href="#ci" x="1364.1" y="351.0"/><use href="#ci" x="1367.7" y="354.6"/><use href="#ci" x="1371.2" y="357.9"/><use href="#ci" x="1374.8" y="360.5"/><use href="#ci" x="1378.3" y="362.1"/><use href="#ci" x="1381.9" y="363.1"/><use href="#ci" x="1385.4" y="364.0"/><use href="#ci" x="1388.9" y="364.6"/><use href="#ci" x="1392.5" y="365.1"/><use href="#ci" x="1396.0" y="365.4"/><use href="#ci" x="1399.6" y="365.1"/><use href="#ci" x="1403.1" y="363.9"/><use href="#ci" x="1406.7" y="361.8"/><use href="#ci" x="1410.2" y="359.3"/><use href="#ci" x="1413.8" y="356.4"/><use href="#ci" x="1417.3" y="353.3"/><use href="#ci" x="1420.9" y="349.1"/><use href="#ci" x="1424.4" y="344.3"/><use href="#ci" x="1428.0" y="339.4"/><use href="#ci" x="1431.5" y="334.9"/><use href="#ci" x="1435.1" y="330.2"/><use href="#ci" x="1438.6" y="324.8"/><use href="#ci" x="1442.2" y="317.9"/><use href="#ci" x="1445.7" y="308.5"/><use href="#ci" x="1449.3" y="298.4"/><use href="#ci" x="1452.8" y="289.1"/><use href="#ci" x="1456.4" y="280.3"/><use href="#ci" x="1459.9" y="272.3"/><use href="#ci" x="1463.4" y="265.5"/><use href="#ci" x="1467.0" y="258.7"/><use href="#ci" x="1470.5" y="250.9"/><use href="#ci" x="1474.1" y="244.1"/><use href="#ci" x="1477.6" y="239.2"/><use href="#ci" x="1481.2" y="235.3"/><use href="#ci" x="1484.7" y="232.1"/><use href="#ci" x="1488.3" y="229.5"/><use href="#ci" x="1491.8" y="227.6"/><use href="#ci" x="1495.4" y="226.1"/><use href="#ci" x="1498.9" y="224.5"/><use href="#ci" x="1502.5" y="222.8"/><use href="#ci" x="1506.0" y="220.5"/><use href="#ci" x="1509.6" y="216.7"/><use href="#ci" x="1513.1" y="212.4"/><use href="#ci" x="1516.7" y="207.3"/><use href="#ci" x="1520.2" y="201.7"/><use href="#ci" x="1523.8" y="195.6"/><use href="#ci" x="1527.3" y="188.4"/><use href="#ci" x="1530.9" y="177.6"/><use href="#ci" x="1534.4" y="167.3"/><use href="#ci" x="1538.0" y="162.0"/><use href="#ci" x="1541.5" y="160.6"/><use href="#ci" x="1545.0" y="166.9"/><use href="#ci" x="1548.6" y="176.4"/><use href="#ci" x="1552.1" y="191.6"/><use href="#ci" x="1555.7" y="215.3"/><use href="#ci" x="1559.2" y="236.1"/><use href="#ci" x="1562.8" y="253.9"/><use href="#ci" x="1566.3" y="268.0"/><use href="#ci" x="1569.9" y="293.3"/><use href="#ci" x="1573.4" y="314.2"/><use href="#ci" x="1577.0" y="327.8"/><use href="#ci" x="1580.5" y="341.6"/><use href="#ci" x="1584.1" y="356.1"/><use href="#ci" x="1587.6" y="370.3"/><use href="#ci" x="1591.2" y="384.8"/><use href="#ci" x="1594.7" y="397.9"/><use href="#ci" x="1598.3" y="407.9"/><use href="#ci" x="1601.8" y="416.4"/><use href="#ci" x="1605.4" y="425.0"/><use href="#ci" x="1608.9" y="433.6"/><use href="#ci" x="1612.5" y="442.4"/><use href="#ci" x="1616.0" y="452.3"/><use href="#ci" x="1619.6" y="462.4"/><use href="#ci" x="1623.1" y="471.2"/></g>
</g>
<rect x="984.5" y="22.2" width="638.60" height="476.00" fill="none" stroke="#000" stroke-width="2"/>
<path d="M984.50,498.20v10 M1030.11,498.20v5 M1075.73,498.20v10 M1121.34,498.20v5 M1166.96,498.20v10 M1212.57,498.20v5 M1258.19,498.20v10 M1303.80,498.20v5 M1349.41,498.20v10 M1395.03,498.20v5 M1440.64,498.20v10 M1486.26,498.20v5 M1531.87,498.20v10 M1577.49,498.20v5 M1623.10,498.20v10 M984.50,498.20h-10 M984.50,418.87h-5 M984.50,339.53h-10 M984.50,260.20h-5 M984.50,180.87h-10 M984.50,101.53h-5 M984.50,22.20h-10" stroke="#000" stroke-width="2" fill="none"/>
<text class="t" transform="translate(984.50,550.2) scale(0.975,1)" font-size="47" text-anchor="middle">4</text>
<text class="t" transform="translate(1075.73,550.2) scale(0.975,1)" font-size="47" text-anchor="middle">6</text>
<text class="t" transform="translate(1166.96,550.2) scale(0.975,1)" font-size="47" text-anchor="middle">8</text>
<text class="t" transform="translate(1258.19,550.2) scale(0.975,1)" font-size="47" text-anchor="middle">10</text>
<text class="t" transform="translate(1349.41,550.2) scale(0.975,1)" font-size="47" text-anchor="middle">12</text>
<text class="t" transform="translate(1440.64,550.2) scale(0.975,1)" font-size="47" text-anchor="middle">14</text>
<text class="t" transform="translate(1531.87,550.2) scale(0.975,1)" font-size="47" text-anchor="middle">16</text>
<text class="t" transform="translate(1623.10,550.2) scale(0.975,1)" font-size="47" text-anchor="middle">18</text>
<text class="t" transform="translate(968.50,512.2) scale(0.975,1)" font-size="47" text-anchor="end">0</text>
<text class="t" transform="translate(968.50,353.5) scale(0.975,1)" font-size="47" text-anchor="end">10</text>
<text class="t" transform="translate(968.50,194.9) scale(0.975,1)" font-size="47" text-anchor="end">20</text>
<text class="t" transform="translate(968.50,36.2) scale(0.975,1)" font-size="47" text-anchor="end">30</text>
<text class="t" transform="translate(1130.5,623.0) scale(0.99,1)" font-size="47.5">Frequency(GHz)</text>
<text class="t" transform="translate(895.0,485.5) rotate(-90) scale(0.99,1)" font-size="47.5">RCS reduction(dB)</text>
<text class="p" transform="translate(1005.4,78.0) scale(1.035,1)" font-size="47.5">(b)</text>
<rect x="1300.3" y="31.3" width="314.7" height="96.3" fill="#fff" stroke="#333" stroke-width="1.5"/>
<path d="M1312.3,62.8h57" stroke="#000" stroke-width="2.2"/>
<use href="#sq" x="1340.5" y="62.8"/>
<path d="M1312.3,111.3h57" stroke="#f00" stroke-width="2.2"/>
<use href="#ci" x="1340.5" y="111.3"/>
<text class="t" transform="translate(1373.8,70.8) scale(1.045,1)" font-size="38.3">x polarization</text>
<text class="t" transform="translate(1373.8,119.6) scale(1.045,1)" font-size="38.3">y polarization</text>
</svg></body></html>
